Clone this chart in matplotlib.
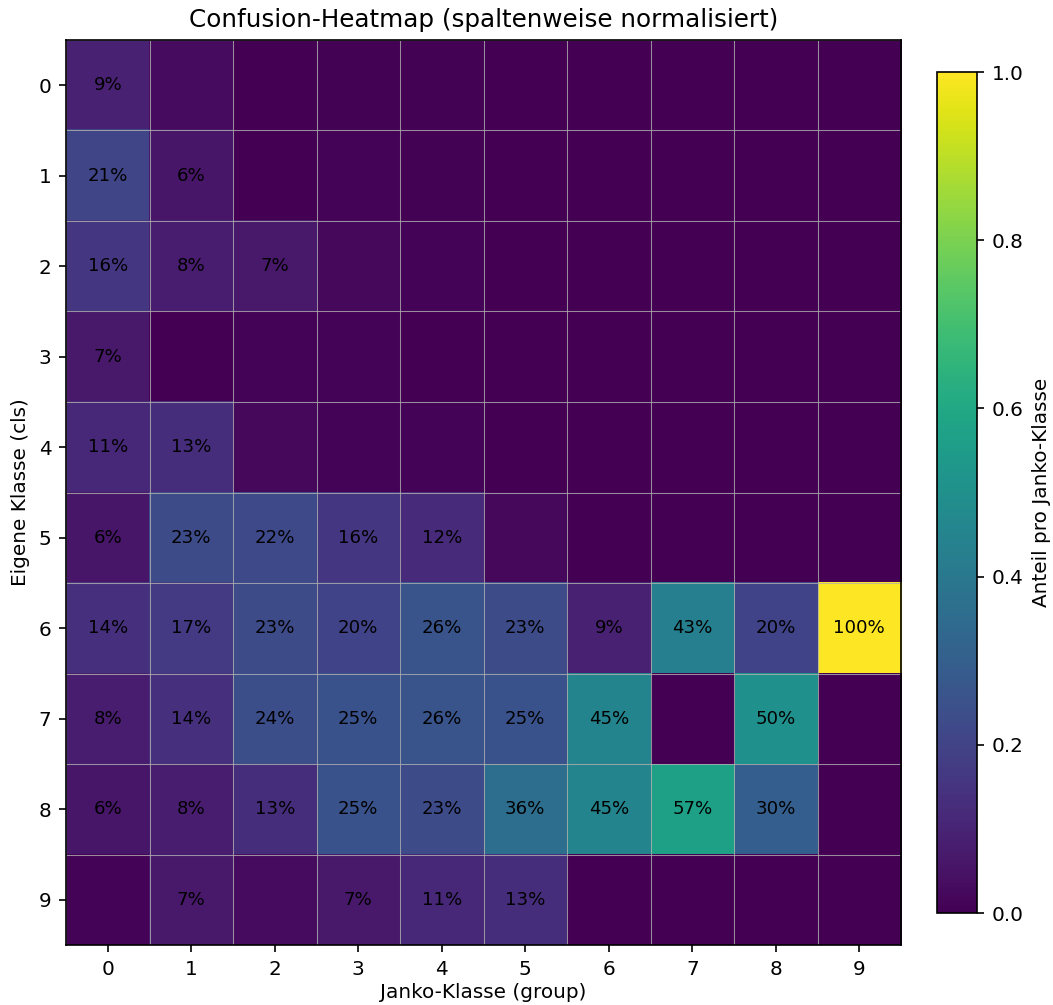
import numpy as np
import matplotlib
matplotlib.use("Agg")
import matplotlib.pyplot as plt

# Column-normalised confusion matrix: rows = own class (cls), columns = Janko class (group)
own_classes = [0, 1, 2, 3, 4, 5, 6, 7, 8, 9]
janko_classes = [0, 1, 2, 3, 4, 5, 6, 7, 8, 9]

row_0 = [0.09, 0.03, 0.00, 0.005, 0.005, 0.00, 0.00, 0.00, 0.00, 0.00]
row_1 = [0.21, 0.06, 0.00, 0.01, 0.005, 0.00, 0.00, 0.00, 0.00, 0.00]
row_2 = [0.16, 0.08, 0.07, 0.02, 0.01, 0.00, 0.00, 0.00, 0.00, 0.00]
row_3 = [0.07, 0.00, 0.01, 0.01, 0.00, 0.00, 0.00, 0.00, 0.00, 0.00]
row_4 = [0.11, 0.13, 0.02, 0.01, 0.01, 0.00, 0.00, 0.00, 0.00, 0.00]
row_5 = [0.06, 0.23, 0.22, 0.16, 0.12, 0.02, 0.00, 0.00, 0.00, 0.00]
row_6 = [0.14, 0.17, 0.23, 0.20, 0.26, 0.23, 0.09, 0.43, 0.20, 1.00]
row_7 = [0.08, 0.14, 0.24, 0.25, 0.26, 0.25, 0.45, 0.00, 0.50, 0.00]
row_8 = [0.06, 0.08, 0.13, 0.25, 0.23, 0.36, 0.45, 0.57, 0.30, 0.00]
row_9 = [0.01, 0.07, 0.03, 0.07, 0.11, 0.13, 0.00, 0.00, 0.00, 0.00]

matrix = np.array([row_0, row_1, row_2, row_3, row_4,
                   row_5, row_6, row_7, row_8, row_9])

plt.rcParams["font.size"] = 9.6
plt.rcParams["xtick.labelsize"] = 9.6
plt.rcParams["ytick.labelsize"] = 9.6

fig = plt.figure(figsize=(7.02, 6.70), dpi=150)
ax = fig.add_axes([0.0627, 0.0597, 0.793, 0.9005])
cax = fig.add_axes([0.8898, 0.0915, 0.038, 0.8368])

im = ax.imshow(matrix, cmap="viridis", vmin=0, vmax=1, aspect="auto")

# Cell annotations for shares of at least 5 %
for i in range(matrix.shape[0]):
    for j in range(matrix.shape[1]):
        v = matrix[i, j]
        if v >= 0.05:
            ax.text(j, i, f"{v:.0%}", ha="center", va="center",
                    color="black", fontsize=8.7)

ax.set_xticks(range(len(janko_classes)))
ax.set_xticklabels([str(c) for c in janko_classes])
ax.set_yticks(range(len(own_classes)))
ax.set_yticklabels([str(c) for c in own_classes])

# Thin light cell borders
ax.set_xticks(np.arange(-0.5, len(janko_classes), 1), minor=True)
ax.set_yticks(np.arange(-0.5, len(own_classes), 1), minor=True)
ax.grid(which="minor", color="#b0b0b0", alpha=0.8, linewidth=0.5)
ax.tick_params(which="minor", length=0)

ax.set_xlabel("Janko-Klasse (group)", labelpad=2)
ax.set_ylabel("Eigene Klasse (cls)")
ax.set_title("Confusion-Heatmap (spaltenweise normalisiert)", fontsize=11.8)

cb = fig.colorbar(im, cax=cax)
cb.set_label("Anteil pro Janko-Klasse")

fig.savefig("out.png", dpi=150)
